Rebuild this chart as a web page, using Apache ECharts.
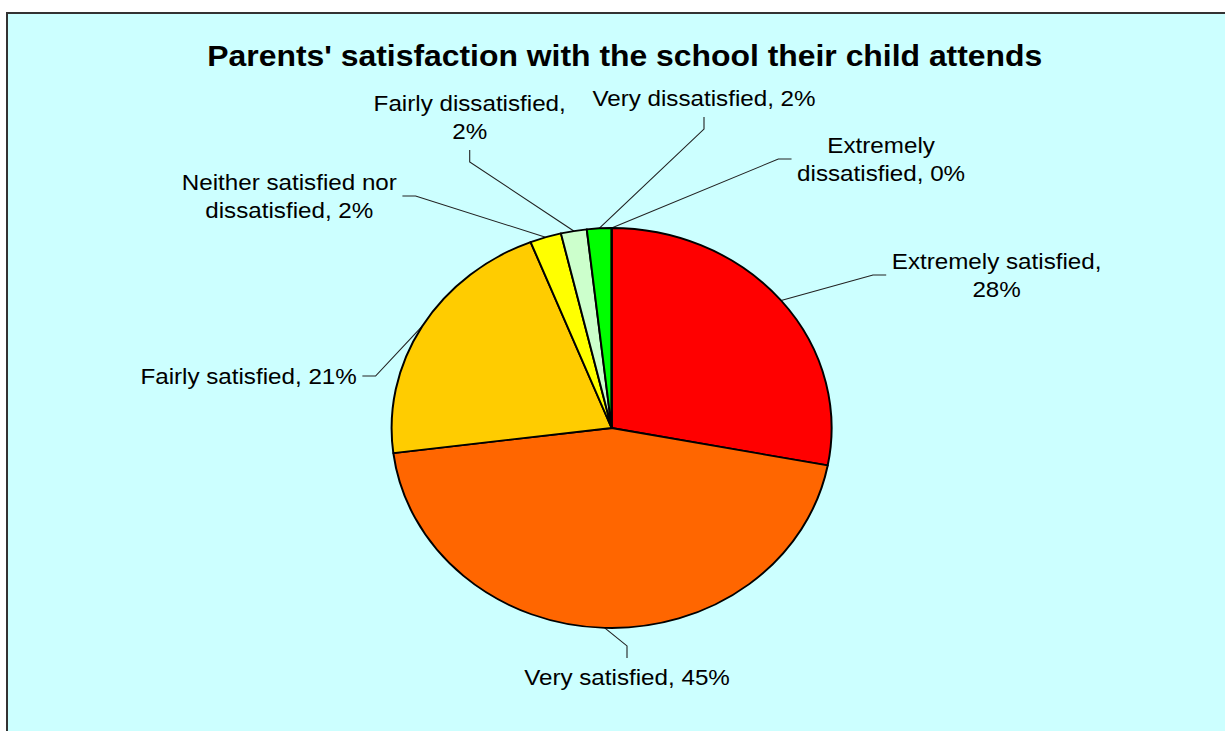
<!DOCTYPE html>
<html>
<head>
<meta charset="utf-8">
<script src="https://cdn.jsdelivr.net/npm/echarts@6/dist/echarts.min.js"></script>
<style>
	html, body { margin: 0; padding: 0; background: #fff; }
	#frame {
		position: absolute; left: 6px; top: 12px;
		width: 1240px; height: 740px;
		background: #CCFFFF; border: 2px solid #333;
	}
	/* the original picture is stretched sideways, so the chart is too */
	#chart {
		position: absolute; left: 0; top: 0;
		width: 1114px; height: 731px;
		transform: scaleX(1.1); transform-origin: 0 0;
	}
</style>
</head>
<body>
<div id="frame"></div>
<div id="chart"></div>
<script>
const chartTitle = "Parents' satisfaction with the school their child attends";
const categories = [
	'Extremely satisfied',
	'Very satisfied',
	'Fairly satisfied',
	'Neither satisfied nor dissatisfied',
	'Fairly dissatisfied',
	'Very dissatisfied',
	'Extremely dissatisfied'
];
const shares = [28, 45, 21, 2.3, 1.9, 1.8, 0];
const colors = ['#FF0000', '#FF6600', '#FFCC00', '#FFFF00', '#CCFFCC', '#00FF00', '#008000'];

// label placement (chart px, before the sideways stretch)
const labelCenter = [[906, 275], [570, 677], [226, 376], [263, 196], [427, 117], [640, 98], [801, 159]];
const labelSide = ['left', 'top', 'right', 'right', 'bottom', 'bottom', 'left'];
const labelBreak = [2, 0, 0, 3, 2, 0, 1];
const stub = 12;
const gap = 5;

function labelText(p) {
	const full = p.name + ', ' + Math.round(p.percent) + '%';
	const brk = labelBreak[p.dataIndex];
	if (!brk) return full;
	const w = full.split(' ');
	return w.slice(0, brk).join(' ') + '\n' + w.slice(brk).join(' ');
}

const chart = echarts.init(document.getElementById('chart'), null, { renderer: 'svg' });

const option = {
	animation: false,
	title: {
		text: chartTitle,
		left: 563,
		top: 36,
		textAlign: 'center',
		textStyle: {
			fontFamily: 'Liberation Sans, Arial, sans-serif',
			fontSize: 29,
			fontWeight: 'bold',
			color: '#000'
		}
	},
	series: [{
		type: 'pie',
		center: [556, 428],
		radius: 200,
		startAngle: 90,
		clockwise: true,
		avoidLabelOverlap: false,
		emphasis: { disabled: true },
		itemStyle: { borderColor: '#000', borderWidth: 1.8 },
		label: {
			show: true,
			position: 'outside',
			formatter: labelText,
			fontFamily: 'Liberation Sans, Arial, sans-serif',
			fontSize: 22,
			lineHeight: 28,
			color: '#000'
		},
		labelLine: {
			show: true,
			length: 10,
			length2: 10,
			lineStyle: { color: '#222', width: 1 }
		},
		labelLayout: function (params) {
			const i = params.dataIndex;
			const cx = labelCenter[i][0], cy = labelCenter[i][1];
			const hw = params.labelRect.width / 2, hh = params.labelRect.height / 2;
			let a, b;
			if (labelSide[i] === 'left') { a = [cx - hw - gap, cy]; b = [a[0] - stub, cy]; }
			else if (labelSide[i] === 'right') { a = [cx + hw + gap, cy]; b = [a[0] + stub, cy]; }
			else if (labelSide[i] === 'top') { a = [cx, cy - hh - gap]; b = [cx, a[1] - stub]; }
			else { a = [cx, cy + hh + gap]; b = [cx, a[1] + stub]; }
			const res = { x: cx, y: cy, align: 'center', verticalAlign: 'middle' };
			if (params.labelLinePoints) {
				res.labelLinePoints = [params.labelLinePoints[0], b, a];
			}
			return res;
		},
		data: categories.map(function (c, i) {
			return { name: c, value: shares[i], itemStyle: { color: colors[i] } };
		})
	}]
};

chart.setOption(option);
</script>
</body>
</html>
